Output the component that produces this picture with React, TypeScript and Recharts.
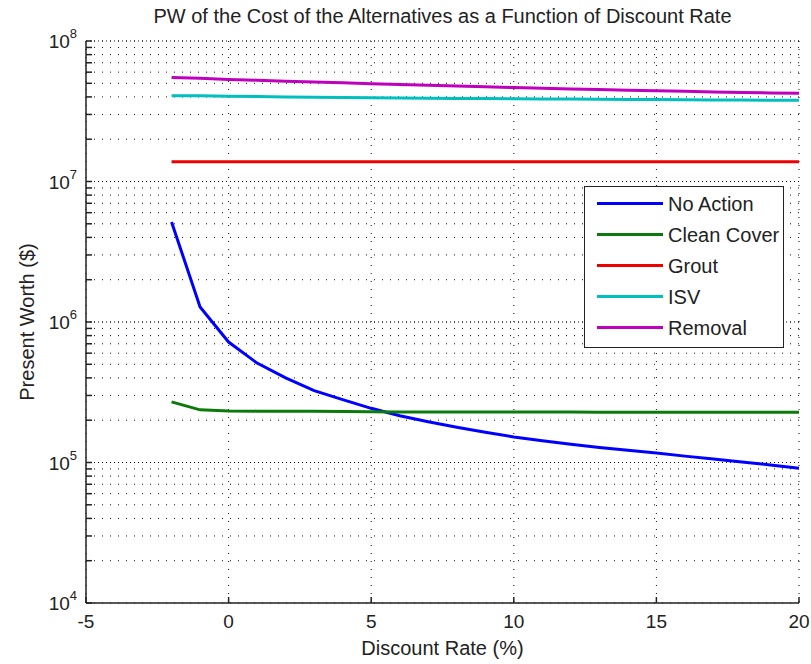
import React from "react";
import { LineChart, Line, XAxis, YAxis, CartesianGrid, ReferenceLine } from "recharts";

const discountRates = [-2, -1, 0, 1, 2, 3, 4, 5, 6, 7, 8, 9, 10, 11, 12, 13, 14, 15, 16, 17, 18, 19, 20];

const noAction = [
  5.15e6, 1.28e6, 7.2e5, 5.1e5, 4.0e5, 3.25e5, 2.8e5, 2.43e5, 2.15e5, 1.95e5, 1.78e5, 1.64e5,
  1.52e5, 1.43e5, 1.35e5, 1.28e5, 1.22e5, 1.17e5, 1.11e5, 1.06e5, 1.01e5, 9.6e4, 9.1e4,
];
const cleanCover = [
  2.7e5, 2.37e5, 2.33e5, 2.32e5, 2.32e5, 2.32e5, 2.31e5, 2.3e5, 2.29e5, 2.29e5, 2.29e5, 2.29e5,
  2.29e5, 2.29e5, 2.29e5, 2.28e5, 2.28e5, 2.28e5, 2.28e5, 2.28e5, 2.28e5, 2.28e5, 2.28e5,
];
const grout = [
  1.38e7, 1.38e7, 1.38e7, 1.38e7, 1.38e7, 1.38e7, 1.38e7, 1.38e7, 1.38e7, 1.38e7, 1.38e7, 1.38e7,
  1.38e7, 1.38e7, 1.38e7, 1.38e7, 1.38e7, 1.38e7, 1.38e7, 1.38e7, 1.38e7, 1.38e7, 1.38e7,
];
const isv = [
  4.07e7, 4.07e7, 4.05e7, 4.03e7, 4.0e7, 3.98e7, 3.96e7, 3.95e7, 3.93e7, 3.92e7, 3.9e7, 3.89e7,
  3.88e7, 3.87e7, 3.86e7, 3.85e7, 3.84e7, 3.83e7, 3.82e7, 3.81e7, 3.8e7, 3.79e7, 3.78e7,
];
const removal = [
  5.5e7, 5.42e7, 5.33e7, 5.26e7, 5.18e7, 5.11e7, 5.04e7, 4.97e7, 4.9e7, 4.84e7, 4.78e7, 4.72e7,
  4.66e7, 4.61e7, 4.56e7, 4.51e7, 4.46e7, 4.42e7, 4.38e7, 4.34e7, 4.3e7, 4.27e7, 4.24e7,
];

const xTicks = [-5, 0, 5, 10, 15, 20];
const yDecades = [1e4, 1e5, 1e6, 1e7, 1e8];
const yMinorFactors = [2, 3, 4, 5, 6, 7, 8, 9];

const SERIES = [
  { key: "noAction", name: "No Action", color: "#0000ff", values: noAction },
  { key: "cleanCover", name: "Clean Cover", color: "#0a7a0a", values: cleanCover },
  { key: "grout", name: "Grout", color: "#ee0000", values: grout },
  { key: "isv", name: "ISV", color: "#00bfbf", values: isv },
  { key: "removal", name: "Removal", color: "#bf00bf", values: removal },
];

const chartData = discountRates.map((rate, i) => {
  const row: Record<string, number> = { rate };
  SERIES.forEach((s) => {
    row[s.key] = s.values[i];
  });
  return row;
});

const yTicks: number[] = [];
yDecades.forEach((d, i) => {
  yTicks.push(d);
  if (i < yDecades.length - 1) yMinorFactors.forEach((f) => yTicks.push(d * f));
});

const FONT = '"Liberation Sans", Arial, sans-serif';
const INK = "#222";

function YTick(props: any) {
  const { x, y, payload } = props;
  const lg = Math.log10(payload.value);
  const exp = Math.round(lg);
  const major = Math.abs(lg - exp) < 1e-6;
  return (
    <g>
      <line x1={x} x2={x + 6} y1={y} y2={y} stroke={INK} strokeWidth={1.5} />
      {major && (
        <text x={x - 9} y={y + 7} textAnchor="end" fontSize={19} fill={INK} fontFamily={FONT}>
          10
          <tspan dy={-10} fontSize={13}>
            {exp}
          </tspan>
        </text>
      )}
    </g>
  );
}

function XTick(props: any) {
  const { x, y, payload } = props;
  return (
    <g>
      <line x1={x} x2={x} y1={y} y2={y - 6} stroke={INK} strokeWidth={1.5} />
      <text x={x} y={y + 25} textAnchor="middle" fontSize={19} fill={INK} fontFamily={FONT}>
        {payload.value}
      </text>
    </g>
  );
}

export default function App() {
  return (
    <div
      style={{
        position: "absolute",
        left: 0,
        top: 0,
        width: 811,
        height: 664,
        background: "#fff",
        fontFamily: FONT,
        color: INK,
      }}
    >
      <LineChart width={811} height={664} data={chartData} margin={{ top: 41, right: 12, bottom: 0, left: 0 }}>
        <CartesianGrid stroke="#111" strokeDasharray="1 7" />
        {yDecades.slice(1).map((d) => (
          <ReferenceLine key={d} y={d} stroke="#111" strokeDasharray="1 3" />
        ))}
        <XAxis
          dataKey="rate"
          type="number"
          domain={[-5, 20]}
          ticks={xTicks}
          interval={0}
          height={61}
          tickSize={0}
          tickMargin={0}
          tickLine={false}
          axisLine={{ stroke: INK, strokeWidth: 1.5 }}
          tick={<XTick />}
        />
        <YAxis
          scale="log"
          type="number"
          domain={[1e4, 1e8]}
          allowDataOverflow
          ticks={yTicks}
          interval={0}
          width={86}
          tickSize={0}
          tickMargin={0}
          tickLine={false}
          axisLine={{ stroke: INK, strokeWidth: 1.5 }}
          tick={<YTick />}
        />
        {SERIES.map((s) => (
          <Line
            key={s.key}
            dataKey={s.key}
            name={s.name}
            stroke={s.color}
            strokeWidth={3}
            dot={false}
            type="linear"
            isAnimationActive={false}
          />
        ))}
      </LineChart>

      <div
        style={{
          position: "absolute",
          left: 0,
          width: 885,
          top: 6,
          fontSize: 20,
          lineHeight: "20px",
          textAlign: "center",
          whiteSpace: "nowrap",
        }}
      >
        PW of the Cost of the Alternatives as a Function of Discount Rate
      </div>
      <div
        style={{
          position: "absolute",
          left: 0,
          width: 885,
          top: 638,
          fontSize: 20,
          lineHeight: "20px",
          textAlign: "center",
          whiteSpace: "nowrap",
        }}
      >
        Discount Rate (%)
      </div>
      <div
        style={{
          position: "absolute",
          left: 27 - 150,
          top: 322 - 10,
          width: 300,
          height: 20,
          fontSize: 20,
          lineHeight: "20px",
          textAlign: "center",
          transform: "rotate(-90deg)",
          whiteSpace: "nowrap",
        }}
      >
        Present Worth ($)
      </div>

      <div
        style={{
          position: "absolute",
          left: 584,
          top: 186,
          width: 200,
          height: 162,
          boxSizing: "border-box",
          border: `1.5px solid ${INK}`,
          background: "#fff",
          paddingTop: 1,
        }}
      >
        {SERIES.map((s) => (
          <div key={s.key} style={{ display: "flex", alignItems: "center", height: 31 }}>
            <span
              style={{
                marginLeft: 12,
                width: 66,
                height: 3,
                background: s.color,
                flexShrink: 0,
              }}
            />
            <span style={{ marginLeft: 5, fontSize: 20, lineHeight: "20px", whiteSpace: "nowrap" }}>{s.name}</span>
          </div>
        ))}
      </div>
    </div>
  );
}
